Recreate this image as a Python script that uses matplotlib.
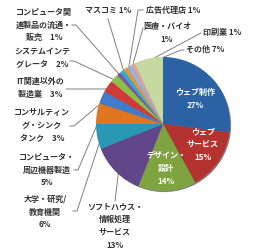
import numpy as np
import matplotlib
matplotlib.use("Agg")
import matplotlib.pyplot as plt

plt.rcParams['font.family'] = ['Noto Sans CJK JP', 'DejaVu Sans']

# industry share of respondents (%), clockwise from 12 o'clock
categories = ["ウェブ制作", "ウェブサービス", "デザイン・設計", "ソフトハウス・情報処理サービス",
              "大学・研究/教育機関", "コンピュータ・周辺機器製造", "コンサルティング・シンクタンク",
              "IT関連以外の製造業", "システムインテグレータ", "コンピュータ関連製品の流通・販売",
              "マスコミ", "広告代理店", "医療・バイオ", "印刷業", "その他"]
shares = [27, 15, 14, 13, 6, 5, 3, 3, 2, 1, 1, 1, 1, 1, 7]
labels = ["ウェブ制作\n27%", "ウェブ\nサービス\n15%", "デザイン・\n設計\n14%",
          "ソフトハウス・\n情報処理\nサービス\n13%", "大学・研究/\n教育機関\n6%",
          "コンピュータ・\n周辺機器製造\n5%", "コンサルティン\nグ・シンク\nタンク　3%",
          "IT関連以外の\n製造業　3%", "システムインテ\nグレータ　2%",
          "コンピュータ関\n連製品の流通・\n販売　1%", "マスコミ 1%", "広告代理店 1%",
          "医療・バイオ\n1%", "印刷業 1%", "その他 7%"]

colors = ["#2b62a3", "#b4322f", "#7fa33e", "#614789", "#2898b5", "#e2761f",
          "#3f7dcb", "#cf3b38", "#8cbf49", "#7a55a8", "#2ab0d5", "#f2922f",
          "#8fb5e2", "#e0a09e", "#c6d9a1"]

H = 250  # image height, used to flip y of label positions

# label layout (image pixel coords): text anchor, ha, leader start (None = inside label)
label_pos = [(195, 99), (203, 144.5), (166, 168.5), (115, 226), (45, 212), (47, 170),
             (42, 125.5), (40, 88), (42, 58.5), (44, 25), (108, 10), (146, 11),
             (167, 33), (203, 32), (186, 49)]
label_ha = ["center"] * 10 + ["center", "left", "center", "left", "left"]
leader_start = [None, None, None, (115, 201), (73, 211), (74, 170), (70, 126), (66, 89),
                (70, 61), (72, 25), (108, 19), (143, 10), (143, 28), (201, 33), (184, 50)]
leader_stub = [0, 0, 0, 0, 4, 4, 4, 4, 4, 4, 0, -5, 0, 0, -3]

fig = plt.figure(figsize=(2.62, 2.5), dpi=100)
ax = fig.add_axes([0, 0, 1, 1])

cx, cy, r = 163, H - 124, 67
wedges, _ = ax.pie(shares, colors=colors, startangle=90, counterclock=False,
                   center=(cx, cy), radius=r, frame=True,
                   wedgeprops=dict(linewidth=0),
                   shadow=dict(ox=0.8, oy=-0.8, shade=0.95))
for w in wedges:
    w.set_zorder(3)

for i, w in enumerate(wedges):
    tx, ty = label_pos[i]
    inside = leader_start[i] is None
    ax.text(tx, H - ty, labels[i], ha=label_ha[i], va="center", fontsize=5.8,
            fontweight="bold", linespacing=1.55,
            color="white" if inside else "#333333", zorder=5)
    if inside:
        continue
    mid = np.deg2rad((w.theta1 + w.theta2) / 2)
    ex, ey = cx + 0.93 * r * np.cos(mid), cy + 0.93 * r * np.sin(mid)
    sx, sy = leader_start[i]
    xs = [sx, sx + leader_stub[i], ex]
    ys = [H - sy, H - sy, ey]
    ax.plot(xs, ys, color="#7f7f7f", linewidth=0.7, zorder=2)

ax.set_xlim(0, 262)
ax.set_ylim(0, H)
ax.axis("off")

fig.savefig("out.png", dpi=100)
